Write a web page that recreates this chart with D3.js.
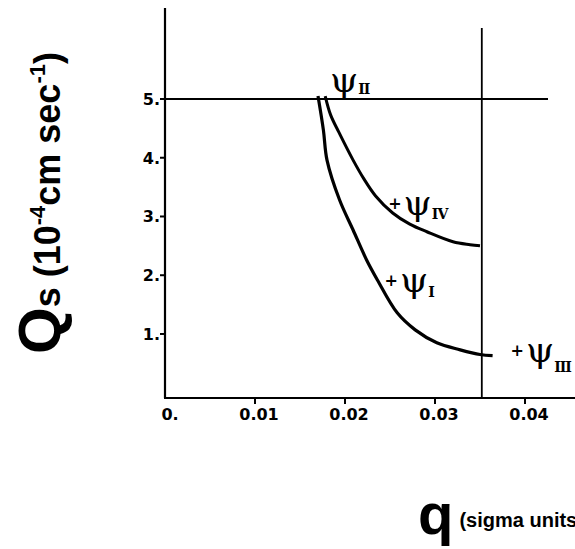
<!DOCTYPE html>
<html lang="en">
<head>
<meta charset="UTF-8">
<title>Qs vs q</title>
<script src="https://d3js.org/d3.v7.min.js"></script>
<style>
    body { margin: 0; background: #fff; }
    svg { display: block; }
    .tick-label { font-family: "DejaVu Sans", sans-serif; font-weight: bold; font-size: 16px; }
    .title { font-family: "Liberation Sans", Arial, sans-serif; font-weight: bold; }
    .psi { font-family: "DejaVu Serif", serif; }
</style>
</head>
<body>
<svg id="chart" width="575" height="549"></svg>
<script>
// tick values and labels
const xTicks = [0, 0.01, 0.02, 0.03, 0.04];
const xTickLabels = ["0.", "0.01", "0.02", "0.03", "0.04"];
const yTicks = [1, 2, 3, 4, 5];
const yTickLabels = ["1.", "2.", "3.", "4.", "5."];

// lower curve (psi I -> psi III)
const lowerQ  = [0.0170, 0.0176, 0.0180, 0.0194, 0.0209, 0.0224, 0.0236, 0.0258, 0.0278, 0.0302, 0.0328, 0.0350, 0.0364];
const lowerQs = [5.05, 4.47, 3.96, 3.28, 2.77, 2.26, 1.92, 1.36, 1.07, 0.85, 0.73, 0.65, 0.63];

// upper curve (psi II -> psi IV)
const upperQ  = [0.0178, 0.0184, 0.0193, 0.0209, 0.0221, 0.0234, 0.0253, 0.0272, 0.0291, 0.0320, 0.0339, 0.0350];
const upperQs = [5.05, 4.73, 4.44, 3.96, 3.64, 3.35, 3.06, 2.87, 2.74, 2.57, 2.52, 2.50];

// reference lines
const refQs = 5;
const refQ = 0.0352;

// point labels
const psiNames = ["II", "IV", "I", "III"];
const psiQ  = [0.0181, 0.0248, 0.0244, 0.0384];
const psiQs = [5.12, 3.03, 1.72, 0.52];
const psiPlus = [false, true, true, true];
const psiSubDrop = [2, 4, 5, 10];

const svg = d3.select("#chart");

const x = d3.scaleLinear().domain([0, 0.04]).range([165, 525]);
const y = d3.scaleLinear().domain([-0.09, 5]).range([398, 99]);

// axes frame
svg.append("line").attr("x1", 165).attr("x2", 165).attr("y1", 8).attr("y2", 398)
    .attr("stroke", "#000").attr("stroke-width", 2.2);
svg.append("line").attr("x1", 164).attr("x2", 575).attr("y1", 398).attr("y2", 398)
    .attr("stroke", "#000").attr("stroke-width", 2.2);

// y ticks
svg.selectAll(".ytick").data(yTicks).enter().append("line")
    .attr("x1", 160).attr("x2", 166)
    .attr("y1", d => y(d)).attr("y2", d => y(d))
    .attr("stroke", "#000").attr("stroke-width", 2);
svg.selectAll(".ylab").data(yTicks).enter().append("text")
    .attr("class", "tick-label")
    .attr("x", 160).attr("y", d => y(d) + 6)
    .attr("text-anchor", "end")
    .text((d, i) => yTickLabels[i]);

// x ticks
svg.selectAll(".xtick").data(xTicks.slice(1)).enter().append("line")
    .attr("x1", d => x(d)).attr("x2", d => x(d))
    .attr("y1", 398).attr("y2", 404)
    .attr("stroke", "#000").attr("stroke-width", 2);
svg.selectAll(".xlab").data(xTicks).enter().append("text")
    .attr("class", "tick-label")
    .attr("x", (d, i) => i === 0 ? x(d) + 5 : x(d) + 4)
    .attr("y", 420)
    .attr("text-anchor", "middle")
    .text((d, i) => xTickLabels[i]);

// reference lines
svg.append("line").attr("x1", x(0)).attr("x2", 548).attr("y1", y(refQs)).attr("y2", y(refQs))
    .attr("stroke", "#000").attr("stroke-width", 2.2);
svg.append("line").attr("x1", x(refQ)).attr("x2", x(refQ)).attr("y1", 28).attr("y2", 398)
    .attr("stroke", "#000").attr("stroke-width", 1.8);

// curves
const line = d3.line().x(d => x(d[0])).y(d => y(d[1])).curve(d3.curveCatmullRom);
svg.append("path").datum(d3.zip(lowerQ, lowerQs)).attr("d", line)
    .attr("fill", "none").attr("stroke", "#000").attr("stroke-width", 3.2);
svg.append("path").datum(d3.zip(upperQ, upperQs)).attr("d", line)
    .attr("fill", "none").attr("stroke", "#000").attr("stroke-width", 3);

// psi labels
psiNames.forEach((n, i) => {
    const px = x(psiQ[i]), py = y(psiQs[i]);
    const t = svg.append("text").attr("class", "psi").attr("x", px).attr("y", py);
    if (psiPlus[i]) t.append("tspan").attr("font-size", 16).attr("font-weight", "bold").attr("dy", -6).text("+");
    t.append("tspan").attr("font-size", 36).attr("dx", 2).attr("dy", psiPlus[i] ? 6 : 0).text("ψ");
    t.append("tspan").attr("font-size", 14).attr("font-weight", "bold")
        .attr("letter-spacing", -1).attr("dy", psiSubDrop[i]).attr("dx", 0).text(n);
});

// y title
const yt = svg.append("text").attr("class", "title")
    .attr("transform", "translate(60,354) rotate(-90)");
yt.append("tspan").attr("font-size", 60).text("Q");
yt.append("tspan").attr("font-size", 36).text("s  (10");
yt.append("tspan").attr("font-size", 22).attr("dy", -15).text("-4");
yt.append("tspan").attr("font-size", 36).attr("dy", 15).text("cm  sec");
yt.append("tspan").attr("font-size", 22).attr("dy", -15).text("-1");
yt.append("tspan").attr("font-size", 36).attr("dy", 15).text(")");

// x title
const xt = svg.append("text").attr("class", "title").attr("x", 418).attr("y", 534);
xt.append("tspan").attr("font-size", 58).text("q");
xt.append("tspan").attr("font-size", 20).attr("dx", 6).attr("dy", -7).text("(sigma units)");
</script>
</body>
</html>
